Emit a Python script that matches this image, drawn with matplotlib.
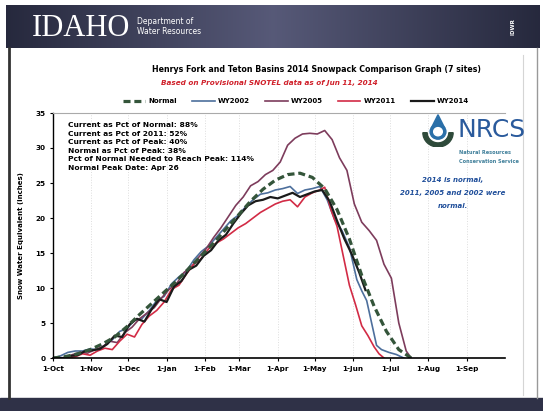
import numpy as np
import matplotlib.pyplot as plt
from matplotlib.patches import Rectangle, Circle, Polygon, Wedge
from matplotlib.lines import Line2D

W, H = 543, 411

def fx(x):
    return x / W

def fy(y):
    return 1 - y / H

# data: days since 1-Oct, snow water equivalent (inches)
month_labels = ["1-Oct", "1-Nov", "1-Dec", "1-Jan", "1-Feb", "1-Mar",
                "1-Apr", "1-May", "1-Jun", "1-Jul", "1-Aug", "1-Sep"]
month_days = [0, 31, 61, 92, 123, 151, 182, 212, 243, 273, 304, 335]

normal_day = [0, 10, 20, 30, 40, 50, 60, 70, 80, 90, 100, 110, 120, 130, 140,
              150, 160, 170, 180, 190, 200, 210, 220, 230, 240, 250, 260, 270,
              280, 290]
normal_swe = [0, 0.2, 0.6, 1.2, 2.0, 3.0, 4.5, 6.2, 7.8, 9.4, 11.0, 12.8, 14.6,
              16.4, 18.4, 20.4, 22.4, 24.1, 25.4, 26.2, 26.4, 25.8, 24.2, 21.2,
              17.0, 11.8, 7.4, 3.8, 1.2, 0]

wy2002_day = [0, 6, 12, 18, 24, 30, 36, 42, 48, 54, 60, 66, 72, 78, 84, 90, 96,
              102, 108, 114, 120, 126, 132, 138, 144, 150, 156, 162, 168, 174,
              180, 186, 192, 198, 204, 210, 216, 222, 228, 234, 240, 246, 250,
              254, 258, 262, 266, 272, 278, 284]
wy2002_swe = [0, 0.3, 0.8, 1.0, 1.0, 1.3, 1.2, 1.8, 2.6, 3.8, 4.2, 5.4, 5.6, 6.8,
              8.2, 8.8, 10.6, 11.6, 12.4, 14.0, 15.2, 16.0, 17.2, 18.4, 19.6,
              20.4, 21.6, 22.6, 23.4, 23.6, 24.0, 24.2, 24.5, 23.5, 24.0, 24.2,
              24.5, 22.6, 19.8, 18.2, 15.8, 11.2, 9.6, 8.2, 5.0, 1.8, 1.2, 0.8,
              0.5, 0]

wy2005_day = [0, 10, 16, 22, 28, 34, 40, 46, 52, 58, 64, 70, 76, 82, 88, 94, 100,
              106, 112, 118, 124, 130, 136, 142, 148, 154, 160, 166, 172, 178,
              184, 190, 196, 202, 208, 214, 220, 226, 232, 238, 244, 250, 256,
              262, 268, 274, 280, 286, 290]
wy2005_swe = [0, 0, 0.5, 0.8, 0.7, 1.2, 1.6, 2.4, 2.2, 3.6, 4.4, 5.6, 6.4, 7.2,
              8.6, 9.8, 10.6, 12.2, 13.0, 14.4, 15.6, 17.2, 18.6, 20.2, 21.8,
              23.0, 24.6, 25.2, 26.2, 26.8, 28.0, 30.4, 31.4, 32.0, 32.1, 32.0,
              32.5, 31.2, 28.6, 26.8, 22.0, 19.4, 18.2, 16.8, 13.4, 11.4, 5.0,
              1.0, 0]

wy2011_day = [0, 12, 18, 24, 30, 36, 42, 48, 54, 60, 66, 72, 78, 84, 90, 96, 102,
              108, 114, 120, 126, 132, 138, 144, 150, 156, 162, 168, 174, 180,
              186, 192, 198, 204, 210, 216, 220, 225, 230, 235, 240, 245, 250,
              255, 260, 264, 268]
wy2011_swe = [0, 0, 0.2, 0.6, 0.4, 1.0, 1.4, 1.2, 2.4, 3.4, 3.0, 4.8, 6.0, 6.8,
              8.0, 9.8, 10.4, 12.0, 13.4, 14.2, 15.6, 16.4, 17.0, 17.8, 18.6,
              19.2, 20.0, 20.8, 21.4, 22.0, 22.4, 22.6, 21.6, 23.0, 23.6, 24.0,
              24.4, 21.2, 18.8, 14.6, 10.4, 7.6, 4.6, 3.2, 1.6, 0.6, 0]

wy2014_day = [0, 8, 14, 20, 26, 32, 38, 44, 50, 56, 62, 68, 74, 80, 86, 92, 98,
              104, 110, 116, 122, 128, 134, 140, 146, 152, 158, 164, 170, 176,
              182, 188, 194, 200, 206, 212, 218, 224, 230, 236, 242, 248, 253]
wy2014_swe = [0, 0, 0.3, 0.4, 1.0, 1.1, 1.3, 2.0, 3.2, 3.0, 4.8, 5.6, 5.2, 7.0,
              8.4, 8.0, 10.2, 11.0, 12.6, 13.2, 14.6, 15.4, 16.8, 17.6, 19.2,
              20.6, 21.8, 22.4, 22.6, 23.0, 22.8, 23.2, 23.6, 23.0, 23.4, 23.8,
              24.0, 22.4, 19.6, 17.0, 14.8, 12.2, 9.7]

info_lines = ["Current as Pct of Normal: 88%",
              "Current as Pct of 2011: 52%",
              "Current as Pct of Peak: 40%",
              "Normal as Pct of Peak: 38%",
              "Pct of Normal Needed to Reach Peak: 114%",
              "Normal Peak Date: Apr 26"]

note_lines = ["2014 is normal,", "2011, 2005 and 2002 were", "normal."]

fig = plt.figure(figsize=(5.43, 4.11), dpi=100)
fig.patch.set_facecolor("white")

# top banner with gradient
ban = fig.add_axes([fx(6), fy(48), fx(540) - fx(6), fy(5) - fy(48)])
t = np.linspace(0, 1, 300)
left = np.array([0.15, 0.16, 0.24])
mid = np.array([0.34, 0.35, 0.47])
mix = np.where(t < 0.5, t * 2, (1 - t) * 2)[:, None]
cols = left + (mid - left) * mix
ban.imshow(cols[None, :, :], aspect="auto", extent=[0, 1, 0, 1])
ban.axis("off")
fig.text(fx(32), fy(28), "IDAHO", color="white", fontsize=22,
         family="Liberation Serif", va="center", ha="left")
fig.text(fx(137), fy(21), "Department of", color="white", fontsize=5.5, va="center")
fig.text(fx(137), fy(32), "Water Resources", color="white", fontsize=5.5, va="center")
fig.text(fx(513), fy(27), "IDWR", color="white", fontsize=4, rotation=90,
         va="center", ha="center", fontweight="bold")

# bottom banner and slide edges
fig.add_artist(Rectangle((0, 0), 1, fy(398), transform=fig.transFigure,
                         color="#2f3147", zorder=0))
fig.add_artist(Line2D([fx(9), fx(9)], [fy(398), fy(48)], transform=fig.transFigure,
                      color="#333333", lw=2))
fig.add_artist(Line2D([fx(537), fx(537)], [fy(398), fy(48)], transform=fig.transFigure,
                      color="#999999", lw=1))
fig.add_artist(Line2D([fx(523), fx(523)], [fy(395), fy(55)], transform=fig.transFigure,
                      color="#d5d5d5", lw=0.8))

# titles
fig.text(fx(316), fy(70), "Henrys Fork and Teton Basins 2014 Snowpack Comparison Graph (7 sites)",
         fontsize=5.7, fontweight="bold", ha="center", va="center")
fig.text(fx(269), fy(83), "Based on Provisional SNOTEL data as of Jun 11, 2014",
         fontsize=5.2, fontweight="bold", style="italic", color="#d0202a",
         ha="center", va="center")

# main chart
ax = fig.add_axes([fx(53), fy(358), fx(505) - fx(53), fy(113) - fy(358)])
ax.plot(wy2002_day, wy2002_swe, color="#4d6f9c", lw=1.2, label="WY2002")
ax.plot(wy2005_day, wy2005_swe, color="#7d3c5c", lw=1.2, label="WY2005")
ax.plot(wy2011_day, wy2011_swe, color="#d22b45", lw=1.2, label="WY2011")
ax.plot(wy2014_day, wy2014_swe, color="#1a1a1a", lw=1.6, label="WY2014")
ax.plot(normal_day, normal_swe, color="#34553a", lw=2.3, ls=(0, (2.2, 1.2)), label="Normal")

ax.set_xlim(0, 366)
ax.set_ylim(0, 35)
ax.set_xticks(month_days)
ax.set_xticklabels(month_labels, fontsize=5.2, fontweight="bold")
ax.set_yticks(range(0, 36, 5))
ax.set_yticklabels([str(v) for v in range(0, 36, 5)], fontsize=5.2, fontweight="bold")
ax.tick_params(length=2.5, width=0.8, pad=3)
ax.grid(axis="x", color="#dddddd", ls=":", lw=0.7)
ax.spines["right"].set_visible(False)
ax.spines["top"].set_color("#aaaaaa")
ax.spines["left"].set_linewidth(1.0)
ax.spines["bottom"].set_linewidth(1.2)
ax.set_ylabel("Snow Water Equivalent (inches)", fontsize=5, fontweight="bold", labelpad=8)

handles, labels = ax.get_legend_handles_labels()
order = [4, 0, 1, 2, 3]
fig.legend([handles[i] for i in order], [labels[i] for i in order],
           loc="center", bbox_to_anchor=(fx(296), fy(101)), ncol=5, frameon=False,
           prop={"size": 5, "weight": "bold"}, handlelength=3.2, columnspacing=2.2,
           handletextpad=0.5)

for i, line in enumerate(info_lines):
    fig.text(fx(68), fy(125 + i * 8.6), line, fontsize=5.4, fontweight="bold",
             va="center", ha="left")

# NRCS logo
lg = fig.add_axes([fx(420), fy(147), fx(456) - fx(420), fy(113) - fy(147)])
lg.set_xlim(0, 1)
lg.set_ylim(0, 1)
lg.axis("off")
lg.add_patch(Wedge((0.5, 0.42), 0.42, 180, 360, width=0.12, color="#2e4a3a"))
lg.add_patch(Circle((0.5, 0.45), 0.22, color="#2a6fa8"))
lg.add_patch(Polygon([[0.31, 0.55], [0.5, 0.95], [0.69, 0.55]], color="#2a6fa8"))
lg.add_patch(Circle((0.5, 0.45), 0.12, color="white"))
fig.text(fx(457), fy(130), "NRCS", fontsize=18, color="#2a5a9c",
         va="center", ha="left")
fig.text(fx(459), fy(153), "Natural Resources", fontsize=3.6, color="#3f7f9a",
         fontweight="bold", va="center")
fig.text(fx(459), fy(161), "Conservation Service", fontsize=3.6, color="#3f7f9a",
         fontweight="bold", va="center")

for i, line in enumerate(note_lines):
    fig.text(fx(453), fy(180 + i * 13), line, fontsize=5, fontweight="bold",
             style="italic", color="#1f4e9a", ha="center", va="center")

fig.savefig("out.png", dpi=100)
